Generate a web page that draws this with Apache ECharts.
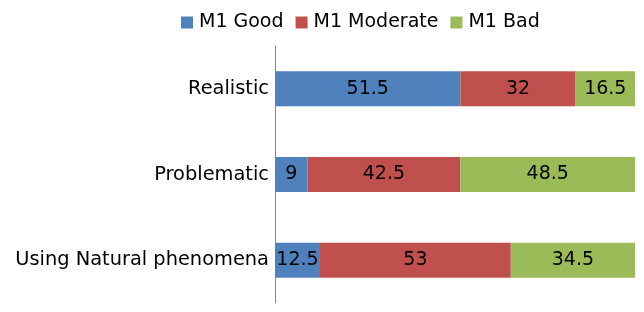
<!DOCTYPE html>
<html>
<head>
<meta charset="utf-8">
<script src="https://cdn.jsdelivr.net/npm/echarts@6/dist/echarts.min.js"></script>
<style>
  html, body { margin: 0; padding: 0; background: #fff; }
  #chart { width: 644px; height: 312px; }
</style>
</head>
<body>
<div id="chart"></div>
<script>
const categories = ['Realistic', 'Problematic', 'Using Natural phenomena']
const good = [51.5, 9, 12.5]
const moderate = [32, 42.5, 53]
const bad = [16.5, 48.5, 34.5]

const font = 'DejaVu Sans'
const chart = echarts.init(document.getElementById('chart'))

function barSeries(name, data, color) {
  return {
    name, type: 'bar', stack: 'total', barWidth: 35, data,
    itemStyle: { color },
    label: { show: true, position: 'inside', color: '#000', fontFamily: font, fontSize: 19 },
  }
}

chart.setOption({
  animation: false,
  textStyle: { fontFamily: font },
  legend: {
    top: 8, left: 176,
    itemWidth: 12, itemHeight: 12, itemGap: 12,
    icon: 'rect',
    textStyle: { fontSize: 19, color: '#000', fontFamily: font, padding: [0, 0, 0, 1] },
  },
  grid: { left: 275, right: 9, top: 46, bottom: 9 },
  xAxis: {
    type: 'value', min: 0, max: 100,
    axisLabel: { show: false }, axisLine: { show: false }, axisTick: { show: false },
    splitLine: { show: false },
  },
  yAxis: {
    type: 'category', data: categories, inverse: true,
    axisLine: { lineStyle: { color: '#888', width: 1 } },
    axisTick: { show: false },
    axisLabel: { color: '#000', fontSize: 19.4, fontFamily: font, margin: 6 },
  },
  series: [
    barSeries('M1 Good', good, '#4F81BD'),
    barSeries('M1 Moderate', moderate, '#C0504D'),
    barSeries('M1 Bad', bad, '#9BBB59'),
  ],
})
</script>
</body>
</html>
